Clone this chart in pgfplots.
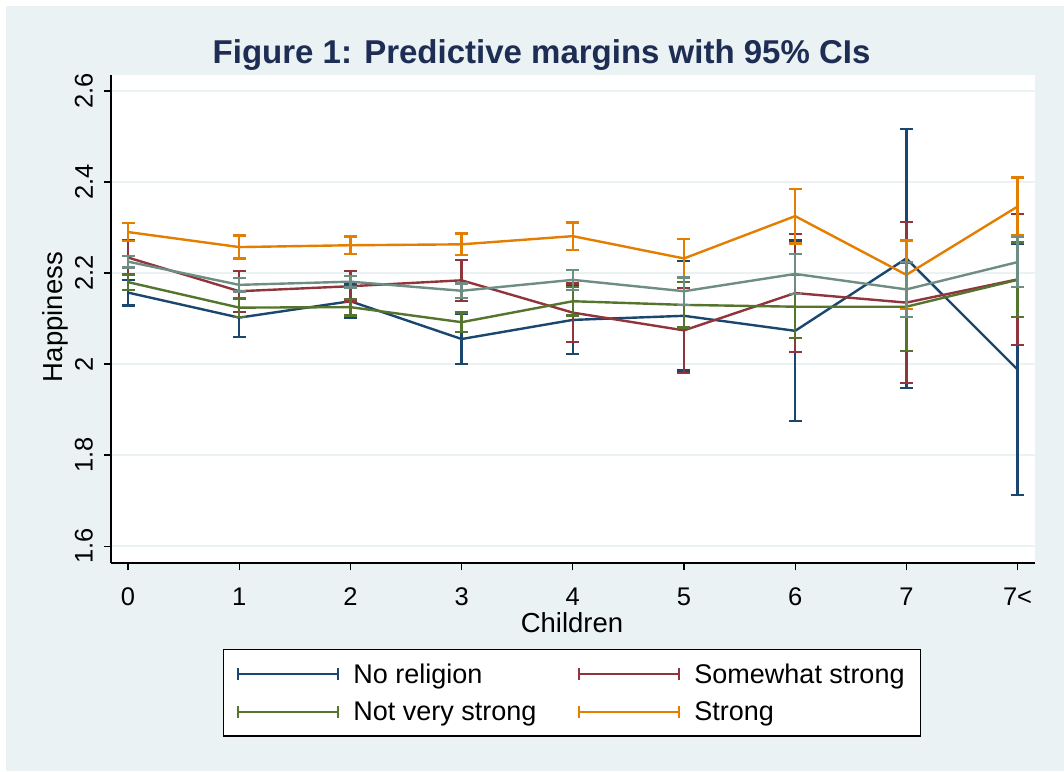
\documentclass[border=0pt]{standalone}
\usepackage{fontspec}
\setmainfont{Liberation Sans}
\usepackage{pgfplots}
\usepackage{pgfplotstable}
\pgfplotsset{compat=1.18}
\definecolor{bgcol}{RGB}{234,242,243}
\definecolor{snavy}{RGB}{26,71,111}
\definecolor{smaroon}{RGB}{144,53,59}
\definecolor{sforest}{RGB}{85,117,47}
\definecolor{sorange}{RGB}{227,126,0}
\definecolor{steal}{RGB}{110,142,132}
\definecolor{titlecol}{RGB}{30,45,84}

% No religion
\pgfplotstableread{
x y e
0 2.157 0.028
1 2.102 0.042
2 2.138 0.037
3 2.055 0.055
4 2.097 0.075
5 2.106 0.120
6 2.073 0.198
7 2.232 0.284
8 1.988 0.276
}\tnone
% Somewhat strong
\pgfplotstableread{
x y e
0 2.234 0.037
1 2.160 0.045
2 2.171 0.034
3 2.184 0.045
4 2.113 0.064
5 2.074 0.093
6 2.156 0.130
7 2.135 0.177
8 2.186 0.144
}\tsome
% Not very strong
\pgfplotstableread{
x y e
0 2.180 0.017
1 2.124 0.020
2 2.125 0.018
3 2.092 0.021
4 2.138 0.031
5 2.130 0.050
6 2.126 0.069
7 2.126 0.097
8 2.185 0.082
}\tnotvery
% Strong
\pgfplotstableread{
x y e
0 2.290 0.020
1 2.257 0.025
2 2.261 0.019
3 2.263 0.024
4 2.281 0.030
5 2.232 0.043
6 2.325 0.060
7 2.196 0.075
8 2.346 0.064
}\tstrong
% fifth group (not in legend)
\pgfplotstableread{
x y e
0 2.225 0.013
1 2.174 0.015
2 2.181 0.013
3 2.161 0.016
4 2.185 0.022
5 2.160 0.030
6 2.198 0.044
7 2.164 0.060
8 2.224 0.055
}\tfifth

\pgfplotsset{
  ciplot/.style={#1, line width=2.4pt, mark=none, forget plot,
    error bars/.cd, y dir=both, y explicit,
    error bar style={#1, line width=2.4pt},
    error mark options={#1, rotate=90, line width=2.4pt, mark size=6.5pt}},
  capleg/.style={legend image code/.code={
    \draw[#1, line width=2pt] (0pt,0pt) -- (100pt,0pt);
    \draw[#1, line width=2pt] (0pt,-6pt) -- (0pt,6pt);
    \draw[#1, line width=2pt] (100pt,-6pt) -- (100pt,6pt);}}
}

\begin{document}
\begin{tikzpicture}[x=1pt,y=1pt]
\path[use as bounding box, fill=white] (0,0) rectangle (1064,771);
\fill[bgcol] (6,0) rectangle (1064,765);
\begin{axis}[
  at={(111pt,208pt)}, anchor=south west,
  scale only axis, width=924pt, height=488pt,
  xmin=-0.153, xmax=8.157, ymin=1.563, ymax=2.635,
  axis background/.style={fill=white},
  axis x line*=bottom, axis y line*=left,
  axis line style={black, line width=1.3pt, -},
  xtick={0,1,2,3,4,5,6,7,8},
  xticklabels={0,1,2,3,4,5,6,7,7<},
  ytick={1.6,1.8,2,2.2,2.4,2.6},
  /pgf/number format/assume math mode=true,
  tick align=outside, major tick length=7pt,
  tick style={black, line width=1.3pt},
  ymajorgrids, major grid style={bgcol, line width=2.5pt},
  ticklabel style={font=\fontsize{25.5}{30}\selectfont},
  yticklabel style={rotate=90, anchor=south, inner sep=0pt, yshift=11pt},
  xticklabel style={anchor=base, inner sep=0pt, yshift=-35pt},
  xlabel={Children}, ylabel={Happiness},
  label style={font=\fontsize{27.5}{32}\selectfont},
  xlabel style={at={(axis description cs:0.4989,-0.1434)}, anchor=base},
  ylabel style={at={(axis description cs:-0.053,0.504)}, anchor=base},
  title={Figure 1: Predictive margins with 95\% CIs},
  title style={at={(axis description cs:0.466,1.012)}, anchor=base, yshift=0pt,
    font=\bfseries\fontsize{33}{38}\selectfont, text=titlecol},
  legend columns=2, legend cell align=left,
  legend style={at={(axis description cs:0.4989,-0.1762)}, anchor=north,
    draw=black, line width=1.2pt, fill=white,
    font=\fontsize{27}{32}\selectfont,
    inner xsep=14pt, inner ysep=12pt, row sep=13pt,
    /tikz/every odd column/.append style={column sep=12pt},
    /tikz/every even column/.append style={column sep=40pt}},
]
\addplot[ciplot=snavy] table[x=x,y=y,y error=e]{\tnone};
\addplot[ciplot=smaroon] table[x=x,y=y,y error=e]{\tsome};
\addplot[ciplot=sforest] table[x=x,y=y,y error=e]{\tnotvery};
\addplot[ciplot=sorange] table[x=x,y=y,y error=e]{\tstrong};
\addplot[ciplot=steal] table[x=x,y=y,y error=e]{\tfifth};
\addlegendimage{capleg=snavy}
\addlegendentry{No religion}
\addlegendimage{capleg=smaroon}
\addlegendentry{Somewhat strong}
\addlegendimage{capleg=sforest}
\addlegendentry{Not very strong}
\addlegendimage{capleg=sorange}
\addlegendentry{Strong}
\end{axis}
\end{tikzpicture}
\end{document}
